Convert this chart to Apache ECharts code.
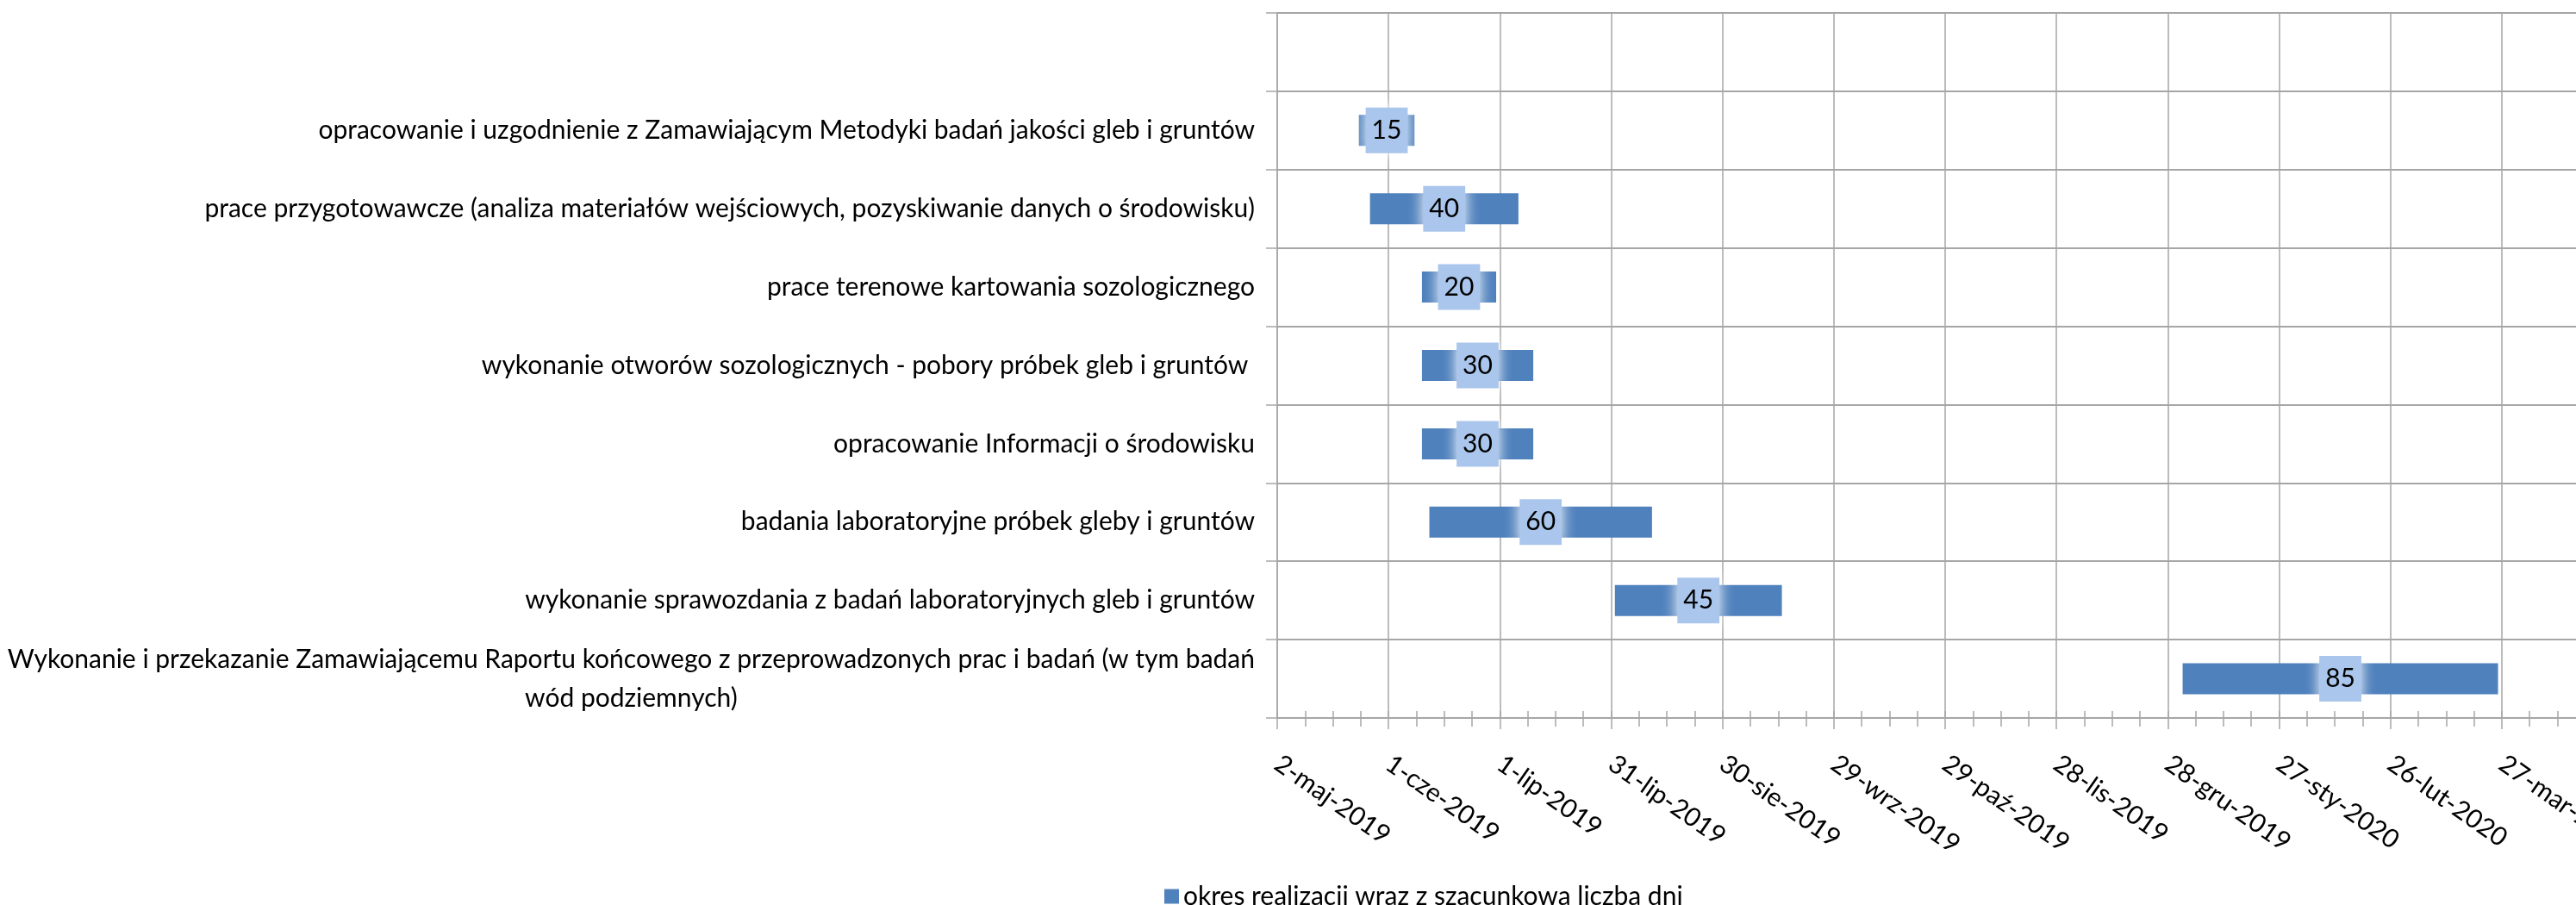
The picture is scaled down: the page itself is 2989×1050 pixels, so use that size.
<!DOCTYPE html>
<html>
<head>
<meta charset="utf-8">
<script src="https://cdn.jsdelivr.net/npm/echarts@6/dist/echarts.min.js"></script>
<style>
html,body{margin:0;padding:0;background:#fff;}
#chart{width:2989px;height:1050px;}
</style>
</head>
<body>
<div id="chart"></div>
<script>
// ---- data ----
const categories = [
  '',
  'opracowanie i uzgodnienie z Zamawiającym Metodyki badań jakości gleb i gruntów',
  'prace przygotowawcze (analiza materiałów wejściowych, pozyskiwanie danych o środowisku)',
  'prace terenowe kartowania sozologicznego',
  'wykonanie otworów sozologicznych - pobory próbek gleb i gruntów ',
  'opracowanie Informacji o środowisku',
  'badania laboratoryjne próbek gleby i gruntów',
  'wykonanie sprawozdania z badań laboratoryjnych gleb i gruntów',
  'Wykonanie i przekazanie Zamawiającemu Raportu końcowego z przeprowadzonych prac i badań (w tym badań\nwód podziemnych)'
];
const startDates = [null, '2019-05-24', '2019-05-27', '2019-06-10', '2019-06-10', '2019-06-10', '2019-06-12', '2019-08-01', '2020-01-01'];
const durations  = [null, 15, 40, 20, 30, 30, 60, 45, 85];
const axisStartDate = '2019-05-02';
const tickLabels = ['2-maj-2019', '1-cze-2019', '1-lip-2019', '31-lip-2019', '30-sie-2019', '29-wrz-2019',
  '29-paź-2019', '28-lis-2019', '28-gru-2019', '27-sty-2020', '26-lut-2020', '27-mar-2020'];
const seriesName = 'okres realizacji wraz z szacunkową liczbą dni';

// ---- helpers ----
function dayNum(s) { const p = s.split('-').map(Number); return Date.UTC(p[0], p[1] - 1, p[2]) / 86400000; }
const base = dayNum(axisStartDate);
const startOffsets = startDates.map(d => d === null ? null : dayNum(d) - base);

const FONT = 'Lato';
const FS = 30;
const GRAY = '#A6A6A6';

const chart = echarts.init(document.getElementById('chart'), null, { renderer: 'canvas' });
chart.setOption({
  animation: false,
  backgroundColor: '#fff',
  grid: { left: 1482, top: 15, right: -43, bottom: 217, containLabel: false, outerBoundsMode: 'none' },
  legend: {
    data: [seriesName],
    left: 1346, top: 1020,
    icon: 'rect', itemWidth: 17, itemHeight: 17,
    textStyle: { fontFamily: FONT, fontSize: FS, color: '#000' }
  },
  xAxis: [{
    type: 'value', min: 0, max: 360, interval: 30, position: 'bottom',
    axisLine: { show: true, lineStyle: { color: GRAY, width: 2 } },
    axisTick: { show: true, length: 13, lineStyle: { color: GRAY, width: 1.5 } },
    minorTick: { show: true, splitNumber: 4, length: 10, lineStyle: { color: GRAY, width: 1.5 } },
    splitLine: { show: true, lineStyle: { color: GRAY, width: 1.5 } },
    minorSplitLine: { show: false },
    axisLabel: {
      rotate: -35, margin: 50, fontFamily: FONT, fontSize: FS, color: '#000',
      formatter: v => { const i = Math.round(v / 30); return tickLabels[i] || ''; }
    }
  }, {
    type: 'value', min: 0, max: 360, interval: 30, position: 'bottom', gridIndex: 0,
    axisLine: { show: false },
    axisLabel: { show: false },
    splitLine: { show: false },
    axisTick: { show: true, inside: true, length: 8, lineStyle: { color: GRAY, width: 1.5 } },
    minorTick: { show: true, splitNumber: 4, length: 8, lineStyle: { color: GRAY, width: 1.5 } }
  }],
  yAxis: {
    type: 'category', inverse: true, data: categories,
    axisLine: { show: true, lineStyle: { color: GRAY, width: 1.5 } },
    axisTick: { show: true, length: 13, lineStyle: { color: GRAY, width: 1.5 } },
    splitLine: { show: true, lineStyle: { color: GRAY, width: 2 } },
    axisLabel: {
      margin: 26, fontFamily: FONT, fontSize: FS, color: '#000',
      formatter: v => {
        if (v.indexOf('\n') < 0) return v;
        return v.split('\n').map((l, i) => i === 0 ? '{a|' + l + '}' : '{c|' + l + '}').join('\n');
      },
      rich: {
        a: { fontFamily: FONT, fontSize: FS, color: '#000', lineHeight: 45 },
        c: { fontFamily: FONT, fontSize: FS, color: '#000', lineHeight: 45, align: 'center' }
      }
    }
  },
  series: [{
    name: 'start',
    type: 'bar', stack: 'g', barWidth: 36, silent: true,
    itemStyle: { color: 'rgba(0,0,0,0)' },
    data: startOffsets
  }, {
    name: seriesName,
    type: 'bar', stack: 'g', barWidth: 36,
    itemStyle: { color: '#4F81BD' },
    label: {
      show: true, position: 'inside', formatter: '{c}',
      fontFamily: FONT, fontSize: FS, color: '#000',
      backgroundColor: '#AAC6EC', padding: [8, 7, 7, 7], lineHeight: 38,
      shadowColor: '#ffffff', shadowBlur: 16
    },
    data: durations
  }]
});
</script>
</body>
</html>
